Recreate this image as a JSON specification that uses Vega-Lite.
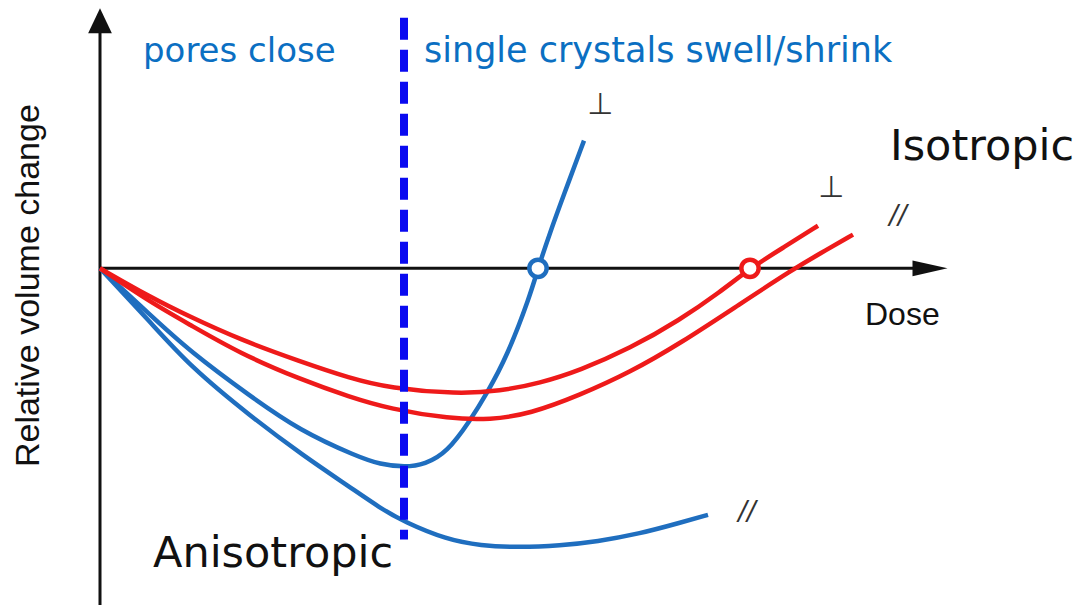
{
  "$schema": "https://vega.github.io/schema/vega-lite/v6.json",
  "width": 1091,
  "height": 607,
  "autosize": {"type": "fit", "contains": "padding"},
  "padding": 0,
  "background": "white",
  "config": {"view": {"stroke": null}},
  "datasets": {
    "curves": [
      {"series": "blue_perp", "dose": 0, "change": 0},
      {"series": "blue_perp", "dose": 0.5, "change": -0.47},
      {"series": "blue_perp", "dose": 0.9, "change": -0.84},
      {"series": "blue_perp", "dose": 1.5, "change": -1.29},
      {"series": "blue_perp", "dose": 2.0, "change": -1.64},
      {"series": "blue_perp", "dose": 2.57, "change": -1.9},
      {"series": "blue_perp", "dose": 2.8, "change": -1.98},
      {"series": "blue_perp", "dose": 3.05, "change": -2.01},
      {"series": "blue_perp", "dose": 3.25, "change": -1.98},
      {"series": "blue_perp", "dose": 3.47, "change": -1.86},
      {"series": "blue_perp", "dose": 3.7, "change": -1.54},
      {"series": "blue_perp", "dose": 3.87, "change": -1.26},
      {"series": "blue_perp", "dose": 4.07, "change": -0.89},
      {"series": "blue_perp", "dose": 4.3, "change": -0.28},
      {"series": "blue_perp", "dose": 4.38, "change": 0},
      {"series": "blue_perp", "dose": 4.5, "change": 0.36},
      {"series": "blue_perp", "dose": 4.63, "change": 0.72},
      {"series": "blue_perp", "dose": 4.84, "change": 1.29},
      {"series": "blue_par", "dose": 0, "change": 0},
      {"series": "blue_par", "dose": 0.5, "change": -0.54},
      {"series": "blue_par", "dose": 0.9, "change": -0.99},
      {"series": "blue_par", "dose": 1.5, "change": -1.49},
      {"series": "blue_par", "dose": 2.03, "change": -1.89},
      {"series": "blue_par", "dose": 2.5, "change": -2.21},
      {"series": "blue_par", "dose": 2.8, "change": -2.42},
      {"series": "blue_par", "dose": 3.04, "change": -2.56},
      {"series": "blue_par", "dose": 3.47, "change": -2.74},
      {"series": "blue_par", "dose": 3.8, "change": -2.8},
      {"series": "blue_par", "dose": 4.2, "change": -2.82},
      {"series": "blue_par", "dose": 4.6, "change": -2.8},
      {"series": "blue_par", "dose": 4.97, "change": -2.76},
      {"series": "blue_par", "dose": 5.4, "change": -2.68},
      {"series": "blue_par", "dose": 5.8, "change": -2.57},
      {"series": "blue_par", "dose": 6.08, "change": -2.49},
      {"series": "red_perp", "dose": 0, "change": 0},
      {"series": "red_perp", "dose": 0.5, "change": -0.29},
      {"series": "red_perp", "dose": 0.9, "change": -0.49},
      {"series": "red_perp", "dose": 1.4, "change": -0.72},
      {"series": "red_perp", "dose": 2.0, "change": -0.94},
      {"series": "red_perp", "dose": 2.5, "change": -1.11},
      {"series": "red_perp", "dose": 2.9, "change": -1.21},
      {"series": "red_perp", "dose": 3.57, "change": -1.27},
      {"series": "red_perp", "dose": 4.0, "change": -1.24},
      {"series": "red_perp", "dose": 4.4, "change": -1.16},
      {"series": "red_perp", "dose": 4.8, "change": -1.03},
      {"series": "red_perp", "dose": 5.3, "change": -0.81},
      {"series": "red_perp", "dose": 5.8, "change": -0.52},
      {"series": "red_perp", "dose": 6.2, "change": -0.24},
      {"series": "red_perp", "dose": 6.5, "change": 0},
      {"series": "red_perp", "dose": 6.85, "change": 0.22},
      {"series": "red_perp", "dose": 7.18, "change": 0.43},
      {"series": "red_par", "dose": 0, "change": 0},
      {"series": "red_par", "dose": 0.5, "change": -0.34},
      {"series": "red_par", "dose": 0.9, "change": -0.57},
      {"series": "red_par", "dose": 1.4, "change": -0.86},
      {"series": "red_par", "dose": 2.0, "change": -1.12},
      {"series": "red_par", "dose": 2.5, "change": -1.3},
      {"series": "red_par", "dose": 2.9, "change": -1.42},
      {"series": "red_par", "dose": 3.5, "change": -1.52},
      {"series": "red_par", "dose": 3.9, "change": -1.53},
      {"series": "red_par", "dose": 4.3, "change": -1.47},
      {"series": "red_par", "dose": 4.8, "change": -1.28},
      {"series": "red_par", "dose": 5.3, "change": -1.05},
      {"series": "red_par", "dose": 5.8, "change": -0.76},
      {"series": "red_par", "dose": 6.4, "change": -0.36},
      {"series": "red_par", "dose": 6.93, "change": -0.01},
      {"series": "red_par", "dose": 7.2, "change": 0.15},
      {"series": "red_par", "dose": 7.53, "change": 0.34}
    ],
    "markers": [
      {"series": "blue_perp", "dose": 4.38, "change": 0},
      {"series": "red_perp", "dose": 6.5, "change": 0}
    ]
  },
  "layer": [
    {
      "data": {"values": [{}]},
      "mark": {"type": "rule", "color": "#111111", "strokeWidth": 3},
      "encoding": {
        "x": {"datum": 0, "type": "quantitative", "scale": {"domain": [-1.0, 9.91], "nice": false, "zero": false}, "axis": null},
        "y": {"datum": -3.4, "type": "quantitative", "scale": {"domain": [-3.36, 2.71], "nice": false, "zero": false}, "axis": null},
        "y2": {"datum": 2.45}
      }
    },
    {
      "data": {"values": [{}]},
      "mark": {"type": "rule", "color": "#111111", "strokeWidth": 3},
      "encoding": {
        "x": {"datum": 0, "type": "quantitative", "scale": {"domain": [-1.0, 9.91], "nice": false, "zero": false}, "axis": null},
        "x2": {"datum": 8.3},
        "y": {"datum": 0, "type": "quantitative", "scale": {"domain": [-3.36, 2.71], "nice": false, "zero": false}, "axis": null}
      }
    },
    {
      "data": {"values": [{}]},
      "mark": {"type": "point", "shape": "M-0.95,1L0,-1L0.95,1Z", "filled": true, "color": "#111111", "opacity": 1, "size": 625},
      "encoding": {
        "x": {"datum": 0, "type": "quantitative", "scale": {"domain": [-1.0, 9.91], "nice": false, "zero": false}, "axis": null},
        "y": {"datum": 2.5, "type": "quantitative", "scale": {"domain": [-3.36, 2.71], "nice": false, "zero": false}, "axis": null}
      }
    },
    {
      "data": {"values": [{}]},
      "mark": {"type": "point", "shape": "M-1,-0.45L1,0L-1,0.45Z", "filled": true, "color": "#111111", "opacity": 1, "size": 1225},
      "encoding": {
        "x": {"datum": 8.3, "type": "quantitative", "scale": {"domain": [-1.0, 9.91], "nice": false, "zero": false}, "axis": null},
        "y": {"datum": 0, "type": "quantitative", "scale": {"domain": [-3.36, 2.71], "nice": false, "zero": false}, "axis": null}
      }
    },
    {
      "data": {"name": "curves"},
      "mark": {"type": "line", "interpolate": "basis", "strokeWidth": 4.5},
      "encoding": {
        "x": {"field": "dose", "type": "quantitative", "scale": {"domain": [-1.0, 9.91], "nice": false, "zero": false}, "axis": null},
        "y": {"field": "change", "type": "quantitative", "scale": {"domain": [-3.36, 2.71], "nice": false, "zero": false}, "axis": null},
        "detail": {"field": "series"},
        "color": {"field": "series", "type": "nominal", "scale": {"domain": ["blue_perp", "blue_par", "red_perp", "red_par"], "range": ["#1f6ebf", "#1f6ebf", "#ee1a1a", "#ee1a1a"]}, "legend": null}
      }
    },
    {
      "data": {"values": [{}]},
      "mark": {"type": "rule", "color": "#0a0af0", "strokeWidth": 8, "strokeDash": [22, 10]},
      "encoding": {
        "x": {"datum": 3.04, "type": "quantitative", "scale": {"domain": [-1.0, 9.91], "nice": false, "zero": false}, "axis": null},
        "y": {"datum": 2.53, "type": "quantitative", "scale": {"domain": [-3.36, 2.71], "nice": false, "zero": false}, "axis": null},
        "y2": {"datum": -2.74}
      }
    },
    {
      "data": {"name": "markers"},
      "mark": {"type": "point", "shape": "circle", "filled": false, "fill": "white", "fillOpacity": 1, "strokeWidth": 4.5, "size": 300, "opacity": 1},
      "encoding": {
        "x": {"field": "dose", "type": "quantitative", "scale": {"domain": [-1.0, 9.91], "nice": false, "zero": false}, "axis": null},
        "y": {"field": "change", "type": "quantitative", "scale": {"domain": [-3.36, 2.71], "nice": false, "zero": false}, "axis": null},
        "stroke": {"field": "series", "type": "nominal", "scale": {"domain": ["blue_perp", "red_perp"], "range": ["#1f6ebf", "#ee1a1a"]}, "legend": null}
      }
    },
    {
      "data": {"values": [{}]},
      "mark": {"type": "text", "text": "pores close", "font": "DejaVu Sans", "fontSize": 34, "color": "#0b6fc2", "align": "left", "baseline": "alphabetic"},
      "encoding": {
        "x": {"datum": 0.43, "type": "quantitative", "scale": {"domain": [-1.0, 9.91], "nice": false, "zero": false}, "axis": null},
        "y": {"datum": 2.08, "type": "quantitative", "scale": {"domain": [-3.36, 2.71], "nice": false, "zero": false}, "axis": null}
      }
    },
    {
      "data": {"values": [{}]},
      "mark": {"type": "text", "text": "single crystals swell/shrink", "font": "DejaVu Sans", "fontSize": 35, "color": "#0b6fc2", "align": "left", "baseline": "alphabetic"},
      "encoding": {
        "x": {"datum": 3.24, "type": "quantitative", "scale": {"domain": [-1.0, 9.91], "nice": false, "zero": false}, "axis": null},
        "y": {"datum": 2.08, "type": "quantitative", "scale": {"domain": [-3.36, 2.71], "nice": false, "zero": false}, "axis": null}
      }
    },
    {
      "data": {"values": [{}]},
      "mark": {"type": "text", "text": "Isotropic", "font": "DejaVu Sans", "fontSize": 43, "color": "#111111", "align": "left", "baseline": "alphabetic"},
      "encoding": {
        "x": {"datum": 7.9, "type": "quantitative", "scale": {"domain": [-1.0, 9.91], "nice": false, "zero": false}, "axis": null},
        "y": {"datum": 1.09, "type": "quantitative", "scale": {"domain": [-3.36, 2.71], "nice": false, "zero": false}, "axis": null}
      }
    },
    {
      "data": {"values": [{}]},
      "mark": {"type": "text", "text": "Dose", "font": "Liberation Sans", "fontSize": 32, "color": "#111111", "align": "left", "baseline": "alphabetic"},
      "encoding": {
        "x": {"datum": 7.65, "type": "quantitative", "scale": {"domain": [-1.0, 9.91], "nice": false, "zero": false}, "axis": null},
        "y": {"datum": -0.57, "type": "quantitative", "scale": {"domain": [-3.36, 2.71], "nice": false, "zero": false}, "axis": null}
      }
    },
    {
      "data": {"values": [{}]},
      "mark": {"type": "text", "text": "Anisotropic", "font": "DejaVu Sans", "fontSize": 43, "color": "#111111", "align": "left", "baseline": "alphabetic"},
      "encoding": {
        "x": {"datum": 0.53, "type": "quantitative", "scale": {"domain": [-1.0, 9.91], "nice": false, "zero": false}, "axis": null},
        "y": {"datum": -3.02, "type": "quantitative", "scale": {"domain": [-3.36, 2.71], "nice": false, "zero": false}, "axis": null}
      }
    },
    {
      "data": {"values": [{}]},
      "mark": {"type": "text", "text": "Relative volume change", "font": "Liberation Sans", "fontSize": 34, "color": "#111111", "align": "center", "baseline": "middle", "angle": 270},
      "encoding": {
        "x": {"datum": -0.71, "type": "quantitative", "scale": {"domain": [-1.0, 9.91], "nice": false, "zero": false}, "axis": null},
        "y": {"datum": -0.175, "type": "quantitative", "scale": {"domain": [-3.36, 2.71], "nice": false, "zero": false}, "axis": null}
      }
    },
    {
      "data": {"values": [{}]},
      "mark": {"type": "text", "text": "⊥", "font": "DejaVu Sans", "fontSize": 30, "color": "#333333", "align": "center", "baseline": "alphabetic"},
      "encoding": {
        "x": {"datum": 5.0, "type": "quantitative", "scale": {"domain": [-1.0, 9.91], "nice": false, "zero": false}, "axis": null},
        "y": {"datum": 1.56, "type": "quantitative", "scale": {"domain": [-3.36, 2.71], "nice": false, "zero": false}, "axis": null}
      }
    },
    {
      "data": {"values": [{}]},
      "mark": {"type": "text", "text": "⊥", "font": "DejaVu Sans", "fontSize": 30, "color": "#333333", "align": "center", "baseline": "alphabetic"},
      "encoding": {
        "x": {"datum": 7.31, "type": "quantitative", "scale": {"domain": [-1.0, 9.91], "nice": false, "zero": false}, "axis": null},
        "y": {"datum": 0.72, "type": "quantitative", "scale": {"domain": [-3.36, 2.71], "nice": false, "zero": false}, "axis": null}
      }
    },
    {
      "data": {"values": [{}]},
      "mark": {"type": "text", "text": "//", "font": "DejaVu Sans", "fontSize": 26, "fontStyle": "italic", "color": "#333333", "align": "center", "baseline": "middle"},
      "encoding": {
        "x": {"datum": 7.98, "type": "quantitative", "scale": {"domain": [-1.0, 9.91], "nice": false, "zero": false}, "axis": null},
        "y": {"datum": 0.53, "type": "quantitative", "scale": {"domain": [-3.36, 2.71], "nice": false, "zero": false}, "axis": null}
      }
    },
    {
      "data": {"values": [{}]},
      "mark": {"type": "text", "text": "//", "font": "DejaVu Sans", "fontSize": 26, "fontStyle": "italic", "color": "#333333", "align": "center", "baseline": "middle"},
      "encoding": {
        "x": {"datum": 6.47, "type": "quantitative", "scale": {"domain": [-1.0, 9.91], "nice": false, "zero": false}, "axis": null},
        "y": {"datum": -2.46, "type": "quantitative", "scale": {"domain": [-3.36, 2.71], "nice": false, "zero": false}, "axis": null}
      }
    }
  ]
}
